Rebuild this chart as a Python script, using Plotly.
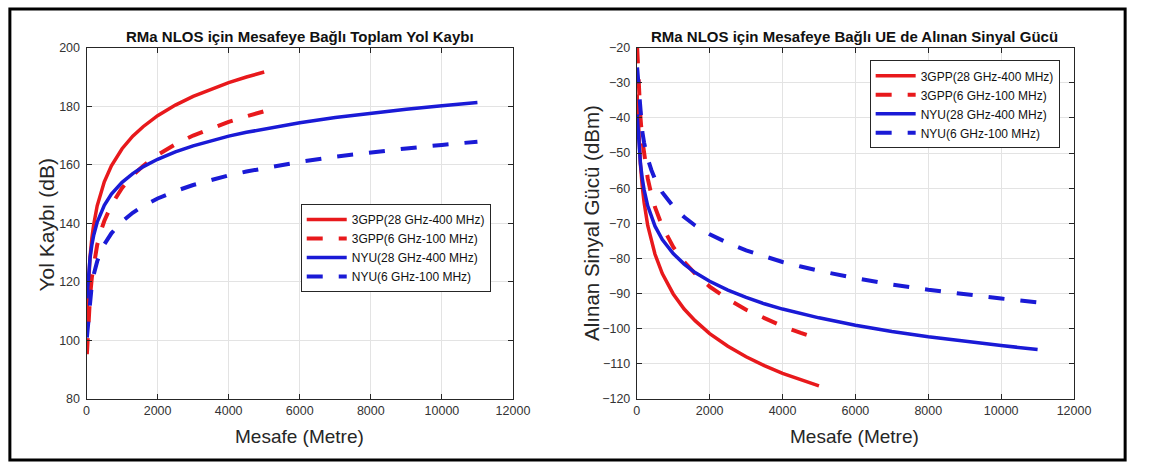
import plotly.graph_objects as go

# Distances (m)
dist_3gpp = [10, 20, 35, 50, 75, 100, 150, 200, 300, 400, 500, 700, 1000, 1300, 1600,
             2000, 2500, 3000, 3500, 4000, 4500, 5000]
dist_nyu = dist_3gpp + [6000, 7000, 8000, 9000, 10000, 11000]

# Left: total path loss (dB)
pl_3gpp_28 = [108.7, 111.0, 115.2, 119.1, 124.4, 128.6, 134.9, 139.4, 146.0, 150.6, 154.2,
              159.7, 165.5, 169.8, 173.1, 176.8, 180.4, 183.4, 185.9, 188.1, 190.0, 191.7]
pl_3gpp_6 = [95.3, 97.6, 101.8, 105.7, 111.0, 115.2, 121.5, 126.0, 132.6, 137.2, 140.8,
             146.3, 152.1, 156.4, 159.7, 163.4, 167.0, 170.0, 172.5, 174.7, 176.6, 178.3]
pl_nyu_28 = [114.4, 115.9, 118.8, 121.6, 125.3, 128.3, 132.6, 135.8, 140.4, 143.6, 146.2,
             150.0, 154.0, 157.0, 159.4, 161.9, 164.4, 166.5, 168.3, 169.8, 171.1, 172.3,
             174.4, 176.2, 177.7, 179.0, 180.2, 181.3]
pl_nyu_6 = [101.0, 102.5, 105.4, 108.2, 111.9, 114.9, 119.2, 122.4, 127.0, 130.2, 132.8,
            136.6, 140.6, 143.6, 146.0, 148.5, 151.0, 153.1, 154.9, 156.4, 157.7, 158.9,
            161.0, 162.8, 164.3, 165.6, 166.8, 167.9]

# Right: received signal power (dBm)
rx_3gpp_28 = [-33.3, -35.6, -39.8, -43.7, -49.0, -53.2, -59.5, -64.0, -70.6, -75.2, -78.8,
              -84.3, -90.1, -94.4, -97.7, -101.4, -105.0, -108.0, -110.5, -112.7, -114.6, -116.3]
rx_3gpp_6 = [-19.9, -22.2, -26.4, -30.3, -35.6, -39.8, -46.1, -50.6, -57.2, -61.8, -65.4,
             -70.9, -76.7, -81.0, -84.3, -88.0, -91.6, -94.6, -97.1, -99.3, -101.2, -102.9]
rx_nyu_28 = [-39.0, -40.5, -43.4, -46.2, -49.9, -52.9, -57.2, -60.4, -65.0, -68.2, -70.8,
             -74.6, -78.6, -81.6, -84.0, -86.5, -89.0, -91.1, -92.9, -94.4, -95.7, -96.9,
             -99.0, -100.8, -102.3, -103.6, -104.8, -105.9]
rx_nyu_6 = [-25.6, -27.1, -30.0, -32.8, -36.5, -39.5, -43.8, -47.0, -51.6, -54.8, -57.4,
            -61.2, -65.2, -68.2, -70.6, -73.1, -75.6, -77.7, -79.5, -81.0, -82.3, -83.5,
            -85.6, -87.4, -88.9, -90.2, -91.4, -92.5]

names = ["3GPP(28 GHz-400 MHz)", "3GPP(6 GHz-100 MHz)", "NYU(28 GHz-400 MHz)", "NYU(6 GHz-100 MHz)"]

RED = "#e8191c"
BLUE = "#1a1ad6"
DASH = "16px,16px"
FONT = "Liberation Sans, Arial, sans-serif"

fig = go.Figure()

left = [(dist_3gpp, pl_3gpp_28, RED, "solid", 3.5),
        (dist_3gpp, pl_3gpp_6, RED, DASH, 4),
        (dist_nyu, pl_nyu_28, BLUE, "solid", 3.5),
        (dist_nyu, pl_nyu_6, BLUE, DASH, 4)]
right = [(dist_3gpp, rx_3gpp_28, RED, "solid", 3.5),
         (dist_3gpp, rx_3gpp_6, RED, DASH, 4),
         (dist_nyu, rx_nyu_28, BLUE, "solid", 3.5),
         (dist_nyu, rx_nyu_6, BLUE, DASH, 4)]

for (x, y, c, d, w), n in zip(left, names):
    fig.add_trace(go.Scatter(x=x, y=y, mode="lines", name=n, line=dict(color=c, dash=d, width=w),
                             xaxis="x", yaxis="y", legend="legend"))
for (x, y, c, d, w), n in zip(right, names):
    fig.add_trace(go.Scatter(x=x, y=y, mode="lines", name=n, line=dict(color=c, dash=d, width=w),
                             xaxis="x2", yaxis="y2", legend="legend2"))

W, H = 1150, 470
def px(v): return v / W
def py(v): return 1 - v / H

axis_common = dict(showline=True, linecolor="#262626", linewidth=1, mirror="ticks",
                   ticks="inside", ticklen=5, tickcolor="#262626",
                   showgrid=True, gridcolor="#e3e3e3", gridwidth=1, zeroline=False,
                   tickformat="d",
                   tickfont=dict(family=FONT, size=12.5, color="#333333"))

fig.update_layout(
    width=W, height=H,
    margin=dict(l=0, r=0, t=0, b=0),
    paper_bgcolor="white", plot_bgcolor="white",
    showlegend=True,
    xaxis=dict(domain=[px(85), px(519)], range=[0, 12000], dtick=2000, anchor="y", **axis_common),
    yaxis=dict(domain=[py(404), py(42)], range=[80, 200], dtick=20, anchor="x",
               ticklabelstandoff=3, **axis_common),
    xaxis2=dict(domain=[px(645), px(1090)], range=[0, 12000], dtick=2000, anchor="y2", **axis_common),
    yaxis2=dict(domain=[py(404), py(42)], range=[-120, -20], dtick=10, anchor="x2",
                ticklabelstandoff=3, **axis_common),
    legend=dict(x=px(303), y=py(203), xanchor="left", yanchor="top", bgcolor="white",
                bordercolor="#262626", borderwidth=1, itemwidth=40,
                font=dict(family=FONT, size=12, color="#111111"), tracegroupgap=0),
    legend2=dict(x=px(882), y=py(55), xanchor="left", yanchor="top", bgcolor="white",
                 bordercolor="#262626", borderwidth=1, itemwidth=40,
                 font=dict(family=FONT, size=12, color="#111111"), tracegroupgap=0),
    font=dict(family=FONT),
)

ann = [
    dict(text="<b>RMa NLOS için Mesafeye Bağlı Toplam Yol Kaybı</b>", x=px(302), y=py(30),
         font=dict(size=15, color="#111111")),
    dict(text="<b>RMa NLOS için Mesafeye Bağlı UE de Alınan Sinyal Gücü</b>", x=px(867), y=py(30),
         font=dict(size=15, color="#111111")),
    dict(text="Mesafe (Metre)", x=px(302), y=py(443), font=dict(size=19, color="#262626")),
    dict(text="Mesafe (Metre)", x=px(867), y=py(443), font=dict(size=19, color="#262626")),
    dict(text="Yol Kaybı (dB)", x=px(44), y=py(225), textangle=-90, font=dict(size=21, color="#262626")),
    dict(text="Alınan Sinyal Gücü (dBm)", x=px(599), y=py(223), textangle=-90,
         font=dict(size=20.5, color="#262626")),
]
for a in ann:
    fig.add_annotation(xref="paper", yref="paper", showarrow=False, xanchor="center",
                       yanchor="middle", **a)

fig.add_shape(type="rect", xref="paper", yref="paper", x0=px(7), x1=px(1142), y0=py(467), y1=py(2),
              line=dict(color="black", width=3), fillcolor="rgba(0,0,0,0)")

fig.write_html("out.html", config={"displayModeBar": False},
               post_script="document.body.style.margin='0px';")
